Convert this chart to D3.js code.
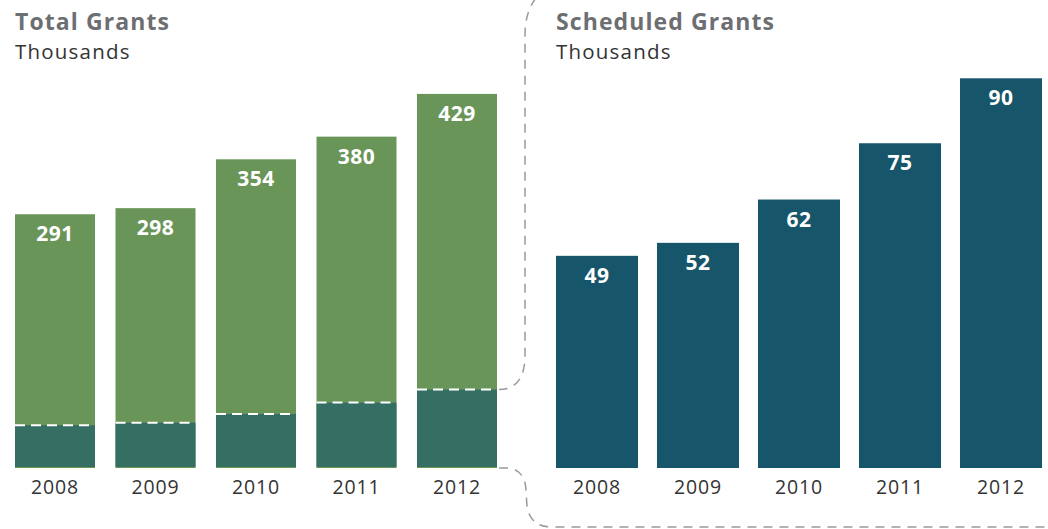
<!DOCTYPE html>
<html>
<head>
<meta charset="utf-8">
<script src="https://cdn.jsdelivr.net/npm/d3@7"></script>
<style>
  body { margin: 0; background: #fff; }
  svg { display: block; font-family: "Open Sans", sans-serif; }
</style>
</head>
<body>
<div id="chart"></div>
<script>
// chart data
var years = ["2008", "2009", "2010", "2011", "2012"];
var totalGrants = [291, 298, 354, 380, 429];
var scheduledGrants = [49, 52, 62, 75, 90];

var width = 1048;
var height = 529;
var baseY = 468;

var svg = d3.select("#chart")
    .append("svg")
    .attr("width", width)
    .attr("height", height);

// scales for the two panels
var xLeft = d3.scaleBand().domain(years).range([15, 497]).paddingInner(0.204);
var yLeft = d3.scaleLinear().domain([0, 500]).range([baseY, baseY - 436]);
var xRight = d3.scaleBand().domain(years).range([556, 1042]).paddingInner(0.188);
var yRight = d3.scaleLinear().domain([0, 100]).range([baseY, baseY - 433]);

var rows = years.map((y, i) => ({year: y, total: totalGrants[i], sched: scheduledGrants[i]}));

//left panel: total bars with the scheduled part at the bottom
var left = svg.append("g");
left.selectAll(".total")
    .data(rows)
    .enter().append("rect")
    .attr("class", "total")
    .attr("x", d => xLeft(d.year))
    .attr("width", xLeft.bandwidth())
    .attr("y", d => yLeft(d.total))
    .attr("height", d => baseY - yLeft(d.total))
    .attr("fill", "#6a9559");

left.selectAll(".sched")
    .data(rows)
    .enter().append("rect")
    .attr("class", "sched")
    .attr("x", d => xLeft(d.year))
    .attr("width", xLeft.bandwidth())
    .attr("y", d => yLeft(d.sched))
    .attr("height", d => baseY - yLeft(d.sched) - 1)
    .attr("fill", "#356e62");

left.selectAll(".split")
    .data(rows)
    .enter().append("line")
    .attr("class", "split")
    .attr("x1", d => xLeft(d.year))
    .attr("x2", d => xLeft(d.year) + xLeft.bandwidth())
    .attr("y1", d => yLeft(d.sched))
    .attr("y2", d => yLeft(d.sched))
    .attr("stroke", "#fff")
    .attr("stroke-width", 2)
    .attr("stroke-dasharray", "10,6");

left.selectAll(".val")
    .data(rows)
    .enter().append("text")
    .attr("class", "val")
    .attr("x", d => xLeft(d.year) + xLeft.bandwidth() / 2)
    .attr("y", d => yLeft(d.total) + 27)
    .attr("text-anchor", "middle")
    .attr("fill", "#fff")
    .style("font-weight", "bold")
    .style("font-size", "21px")
    .style("letter-spacing", "0.5px")
    .text(d => d.total);

//right panel
var right = svg.append("g");
right.selectAll(".bar")
    .data(rows)
    .enter().append("rect")
    .attr("class", "bar")
    .attr("x", d => xRight(d.year))
    .attr("width", xRight.bandwidth())
    .attr("y", d => yRight(d.sched))
    .attr("height", d => baseY - yRight(d.sched))
    .attr("fill", "#17566a");

right.selectAll(".val")
    .data(rows)
    .enter().append("text")
    .attr("class", "val")
    .attr("x", d => xRight(d.year) + xRight.bandwidth() / 2)
    .attr("y", d => yRight(d.sched) + 27)
    .attr("text-anchor", "middle")
    .attr("fill", "#fff")
    .style("font-weight", "bold")
    .style("font-size", "21px")
    .style("letter-spacing", "0.5px")
    .text(d => d.sched);

// x axes (no lines, just the year labels)
[[xLeft, left], [xRight, right]].forEach(p => {
    var ax = p[1].append("g")
        .attr("transform", "translate(0," + baseY + ")")
        .call(d3.axisBottom(p[0]).tickSize(0).tickPadding(8));
    ax.select(".domain").remove();
    ax.selectAll("text")
        .attr("fill", "#333")
        .style("font-family", "'Open Sans', sans-serif")
        .style("font-size", "19.5px")
        .style("letter-spacing", "0.8px")
        .attr("dy", "0.9em");
});

//titles
var titles = [
    {x: 15, t: "Total Grants"},
    {x: 556, t: "Scheduled Grants"}
];
titles.forEach(d => {
    svg.append("text")
        .attr("x", d.x)
        .attr("y", 30)
        .attr("fill", "#6d6e71")
        .style("font-weight", "bold")
        .style("font-size", "23px")
        .style("letter-spacing", "1.1px")
        .text(d.t);
    svg.append("text")
        .attr("x", d.x)
        .attr("y", 59)
        .attr("fill", "#333")
        .style("font-size", "20.5px")
        .style("letter-spacing", "1.2px")
        .text("Thousands");
});

// dashed bracket linking the 2012 scheduled part to the right panel
var bx = xLeft("2012") + xLeft.bandwidth();
var topY = yLeft(scheduledGrants[4]);
svg.append("path")
    .attr("d", "M536,-2 Q525,12 525,35 L525,355 Q525," + topY + " " + (bx + 2) + "," + topY +
        " M" + (bx + 2) + "," + baseY + " L508," + baseY + " Q526," + (baseY + 2) + " 526,492" +
        " L527,506 Q530,527 552,527 L1048,527")
    .attr("fill", "none")
    .attr("stroke", "#9a9a9a")
    .attr("stroke-width", 1.5)
    .attr("stroke-dasharray", "9,7");
</script>
</body>
</html>
